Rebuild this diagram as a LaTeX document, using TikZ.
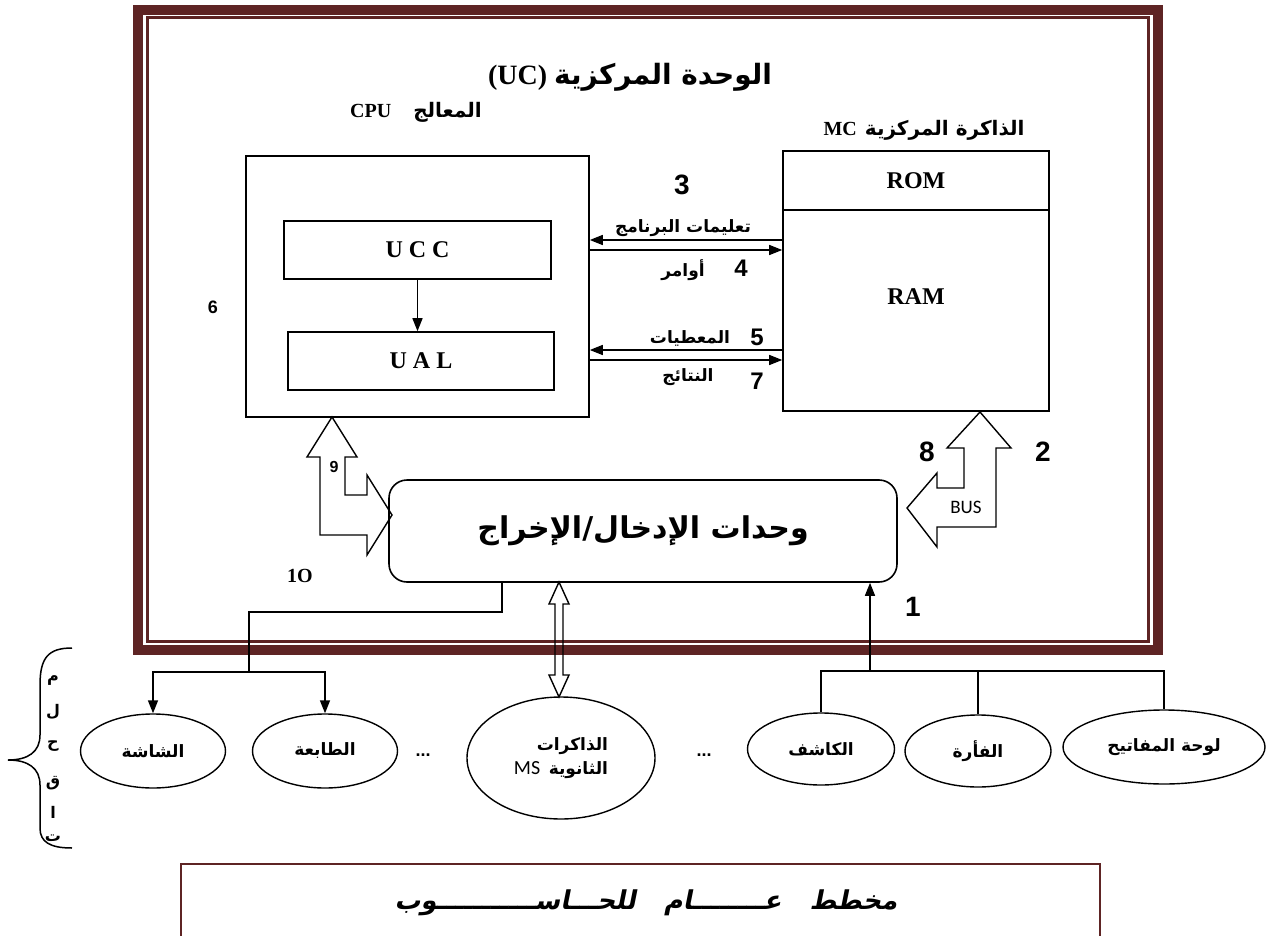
\documentclass[tikz,border=0pt]{standalone}
\usepackage{fontspec}
\setmainfont{Liberation Serif}
\newfontfamily\numfont{Liberation Sans}
\newfontfamily\busfont{Carlito}
\newfontfamily\arabicfont[Script=Arabic]{DejaVu Sans}
\newfontfamily\capfont[Script=Arabic,FakeSlant=0.2]{DejaVu Sans}
\TeXXeTstate=1
\usepackage{tikz}
\usetikzlibrary{shapes.geometric,arrows.meta}
\definecolor{frame}{HTML}{5E2424}
\definecolor{ink}{HTML}{000000}
\newcommand{\artxt}[1]{{\arabicfont\bfseries\beginR #1\endR}}
\tikzset{
  blk/.style     = {draw=ink, line width=1.6pt, inner sep=0pt},
  ioblk/.style   = {blk, rounded corners=18pt, minimum width=508pt, minimum height=102pt},
  dev/.style     = {ellipse, draw=ink, line width=1.4pt, inner sep=0pt},
  hollow/.style  = {draw=ink, line width=1.4pt, line join=miter},
  wire/.style    = {draw=ink, line width=1.5pt},
  flow/.style    = {wire, -{Triangle[length=13pt,width=10pt]}},
  latb/.style    = {font=\fontsize{24}{26}\selectfont\bfseries, inner sep=0pt},
  num/.style     = {font=\fontsize{28}{30}\selectfont\numfont\bfseries, inner sep=0pt},
  numsm/.style   = {font=\fontsize{24}{26}\selectfont\numfont\bfseries, inner sep=0pt},
  numxs/.style   = {font=\fontsize{18}{20}\selectfont\numfont\bfseries, inner sep=0pt},
  arlab/.style   = {font=\fontsize{17}{20}\selectfont, inner sep=0pt},
  head/.style    = {font=\fontsize{20}{22}\selectfont\bfseries, inner sep=0pt},
}
\begin{document}
\begin{tikzpicture}[x=1pt,y=-1pt]
\path[use as bounding box] (0,0) rectangle (1266,936);

% ---- frame of the central unit ------------------------------------------
\draw[frame, line width=10pt] (138,10) rectangle (1158,650);
\draw[frame, line width=3pt] (147.5,17.5) rectangle (1148.5,641.5);

\node[font=\fontsize{28}{30}\selectfont\bfseries, inner sep=0pt] (title) at (630,77)
  {(UC)\ \artxt{الوحدة المركزية}};
\node[head] (cpulab) at (416,112) {CPU\hspace{22pt}\artxt{المعالج}};
\node[head] (memlab) at (924,130) {MC\hspace{8pt}\artxt{الذاكرة المركزية}};

% ---- processor -----------------------------------------------------------
\node[blk, minimum width=343pt, minimum height=261pt] (cpu) at (417.5,286.5) {};
\node[blk, latb, minimum width=267pt, minimum height=58pt] (ucc) at (417.5,250) {U C C};
\node[blk, latb, minimum width=266pt, minimum height=58pt] (ual) at (421,361) {U A L};
\draw[flow] (ucc.south) -- (ucc.south |- ual.north);
\node[numxs] (n6) at (213,307) {6};

% ---- central memory ------------------------------------------------------
\node[blk, minimum width=266pt, minimum height=260pt] (mem) at (916,281) {};
\node[blk, latb, minimum width=266pt, minimum height=59pt] (rom) at (916,180.5) {ROM};
\node[latb] (ram) at (916,297) {RAM};

% ---- exchanges processor / memory ---------------------------------------
\coordinate (prog) at (0,240);
\coordinate (cmd)  at (0,250);
\coordinate (data) at (0,350);
\coordinate (res)  at (0,360);
\draw[flow] (mem.west |- prog) -- (cpu.east |- prog);
\draw[flow] (cpu.east |- cmd)  -- (mem.west |- cmd);
\draw[flow] (mem.west |- data) -- (cpu.east |- data);
\draw[flow] (cpu.east |- res)  -- (mem.west |- res);
\node[num]   (n3) at (682,185) {3};
\node[arlab] (lprog) at (683,228) {\artxt{تعليمات البرنامج}};
\node[numsm] (n4) at (741,268) {4};
\node[arlab] (lcmd) at (683,270) {\artxt{أوامر}};
\node[numsm] (n5) at (757,337) {5};
\node[arlab] (ldata) at (690,338) {\artxt{المعطيات}};
\node[numsm] (n7) at (757,381) {7};
\node[arlab] (lres) at (688,377) {\artxt{النتائج}};

% ---- input / output units ------------------------------------------------
\node[ioblk, font=\fontsize{30}{32}\selectfont] (io) at (643,531) {\artxt{وحدات الإدخال/الإخراج}};

% bus arrows
\draw[hollow] (332,417) -- (357,457) -- (345,457) -- (345,495) -- (367,495) -- (367,475)
  -- (392,515) -- (367,555) -- (367,535) -- (320,535) -- (320,457) -- (307,457) -- cycle;
\node[numxs, font=\fontsize{16}{18}\selectfont\numfont\bfseries] (n9) at (334,467) {9};
\draw[hollow] (980,412) -- (1011,448) -- (996,448) -- (996,527) -- (937,527) -- (937,547)
  -- (907,508) -- (937,473) -- (937,488) -- (964,488) -- (964,448) -- (947,448) -- cycle;
\node[font=\fontsize{19}{21}\selectfont\busfont, inner sep=0pt] (bus) at (966,507) {BUS};
\node[num] (n8) at (927,452) {8};
\node[num] (n2) at (1043,452) {2};
\node[font=\fontsize{20}{22}\selectfont\bfseries, inner sep=0pt] (n10) at (300,576) {1O};
\node[num] (n1) at (913,607) {1};

% ---- peripherals ---------------------------------------------------------
\node[dev, minimum width=145pt, minimum height=74pt, arlab] (scr) at (153,751) {\artxt{الشاشة}};
\node[dev, minimum width=145pt, minimum height=74pt, arlab] (prn) at (325,751) {\artxt{الطابعة}};
\node[font=\fontsize{18}{20}\selectfont\numfont\bfseries, inner sep=0pt] (dotsa) at (423,755) {...};
\node[dev, minimum width=188pt, minimum height=122pt, arlab, align=right] (ms) at (561,758)
  {\artxt{الذاكرات}\\[4pt]{\busfont\fontsize{20}{22}\selectfont MS}\ \ \artxt{الثانوية}};
\node[font=\fontsize{18}{20}\selectfont\numfont\bfseries, inner sep=0pt] (dotsb) at (704,755) {...};
\node[dev, minimum width=147pt, minimum height=72pt, arlab] (det) at (821,749) {\artxt{الكاشف}};
\node[dev, minimum width=146pt, minimum height=72pt, arlab] (mouse) at (978,751) {\artxt{الفأرة}};
\node[dev, minimum width=202pt, minimum height=74pt, arlab] (kbd) at (1164,747) {\artxt{لوحة المفاتيح}};

% outputs
\coordinate (oexit)  at (502,0);
\coordinate (oturn)  at (249,612);
\coordinate (osplit) at (249,672);
\draw[wire] (io.south -| oexit) |- (oturn) -- (osplit);
\draw[flow] (osplit) -| (scr);
\draw[flow] (osplit) -| (prn);

% inputs
\coordinate (isplit) at (870,671);
\draw[flow] (isplit) -- (io.south -| isplit);
\draw[wire] (isplit) -| (det);
\draw[wire] (isplit) -| (mouse);
\draw[wire] (isplit) -| (kbd);

% secondary memory
\draw[hollow] (559,582) -- (569,604) -- (563,604) -- (563,675) -- (569,675) -- (559,697)
  -- (549,675) -- (555,675) -- (555,604) -- (549,604) -- cycle;

% ---- peripherals brace ---------------------------------------------------
\draw[wire] (72,648) .. controls (48,648) and (40,658) .. (40,685) -- (40,735)
  .. controls (40,752) and (28,760) .. (8,760) .. controls (28,760) and (40,768) .. (40,785)
  -- (40,828) .. controls (40,842) and (50,848) .. (72,848);
\foreach \ch/\y [count=\i] in {م/680, ل/712, ح/746, ق/783, ا/812, ت/838}
  \node[arlab, font=\fontsize{16}{18}\selectfont] (ltr\i) at (53,\y) {\artxt{\ch}};

% ---- caption -------------------------------------------------------------
\draw[frame, line width=2.5pt] (181,940) |- (1100,864) -- (1100,940);
\node[font=\fontsize{26}{28}\selectfont\capfont\bfseries, inner sep=0pt] (cap) at (646,903)
  {\beginR مخطط\hspace{28pt}عــــــــام\hspace{28pt}للحـــاســـــــــــوب\endR};

\end{tikzpicture}
\end{document}
